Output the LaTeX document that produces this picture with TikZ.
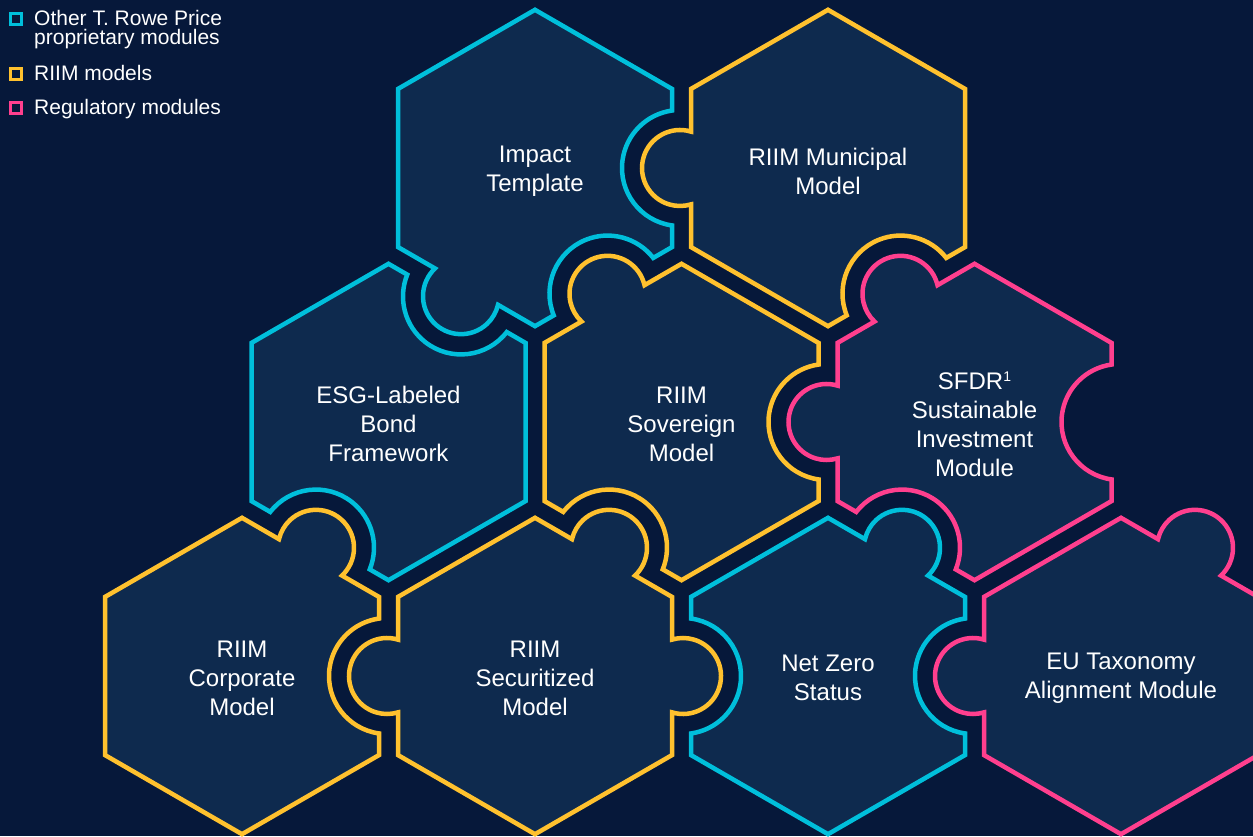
\documentclass[tikz,border=0pt]{standalone}
\usepackage{fontspec}
\setmainfont{Liberation Sans}
\usetikzlibrary{calc}
\definecolor{bgc}{HTML}{06183A}
\definecolor{fillc}{HTML}{0E2A4E}
\definecolor{cyanc}{HTML}{00BFDB}
\definecolor{yelc}{HTML}{FFC12E}
\definecolor{pinkc}{HTML}{FF3F8E}
% edge macros: #1 piece centre, #2 outward normal angle
\newcommand\edS[2]{-- ($(#1)+({#2+30}:158.19)$)}
\newcommand\edT[2]{-- ($(#1)+(#2:148)+({#2-106.83}:38)$) arc[start angle={#2-106.83}, end angle={#2+106.83}, radius=38] -- ($(#1)+({#2+30}:158.19)$)}
\newcommand\edN[2]{-- ($(#1)+(#2:145)+({#2-97.93}:58)$) arc[start angle={#2-97.93}, end angle={#2-262.07}, radius=58] -- ($(#1)+({#2+30}:158.19)$)}
\newcommand\ecS[2]{-- cycle}
\newcommand\ecT[2]{-- ($(#1)+(#2:148)+({#2-106.83}:38)$) arc[start angle={#2-106.83}, end angle={#2+106.83}, radius=38] -- cycle}
\newcommand\ecN[2]{-- ($(#1)+(#2:145)+({#2-97.93}:58)$) arc[start angle={#2-97.93}, end angle={#2-262.07}, radius=58] -- cycle}
\newcommand\stpt[1]{($(#1)+(-30:158.19)$)}
\begin{document}
\begin{tikzpicture}[x=1pt,y=1pt,
  piece/.style={fill=fillc, draw=#1, line width=4.5pt, line join=miter},
  lbl/.style={text=white, font=\fontsize{24}{29}\selectfont, align=center},
  leg/.style={text=white, font=\fontsize{21}{20}\selectfont, anchor=base west, inner sep=0pt},
  legsq/.style={draw=#1, line width=2.8pt, minimum size=11pt, inner sep=0pt}]
\fill[bgc] (0,0) rectangle (1253,836);
\clip (0,0) rectangle (1253,836);
\coordinate (A) at (535,668);
\coordinate (B) at (828,668);
\coordinate (C) at (388.5,414);
\coordinate (D) at (681.5,414);
\coordinate (E) at (974.5,414);
\coordinate (F) at (242,160);
\coordinate (G) at (535,160);
\coordinate (H) at (828,160);
\coordinate (I) at (1121,160);
% pieces
\draw[piece=cyanc] \stpt{A} \edN{A}{0} \edS{A}{60} \edS{A}{120} \edS{A}{180} \edT{A}{240} \ecN{A}{300};
\draw[piece=yelc]  \stpt{B} \edS{B}{0} \edS{B}{60} \edS{B}{120} \edT{B}{180} \edS{B}{240} \ecN{B}{300};
\draw[piece=cyanc] \stpt{C} \edS{C}{0} \edN{C}{60} \edS{C}{120} \edS{C}{180} \edN{C}{240} \ecS{C}{300};
\draw[piece=yelc]  \stpt{D} \edN{D}{0} \edS{D}{60} \edT{D}{120} \edS{D}{180} \edN{D}{240} \ecS{D}{300};
\draw[piece=pinkc] \stpt{E} \edN{E}{0} \edS{E}{60} \edT{E}{120} \edT{E}{180} \edN{E}{240} \ecS{E}{300};
\draw[piece=yelc]  \stpt{F} \edN{F}{0} \edT{F}{60} \edS{F}{120} \edS{F}{180} \edS{F}{240} \ecS{F}{300};
\draw[piece=yelc]  \stpt{G} \edT{G}{0} \edT{G}{60} \edS{G}{120} \edT{G}{180} \edS{G}{240} \ecS{G}{300};
\draw[piece=cyanc] \stpt{H} \edN{H}{0} \edT{H}{60} \edS{H}{120} \edN{H}{180} \edS{H}{240} \ecS{H}{300};
\draw[piece=pinkc] \stpt{I} \edS{I}{0} \edT{I}{60} \edS{I}{120} \edT{I}{180} \edS{I}{240} \ecS{I}{300};
% labels
\node[lbl] (tA) at ($(A)+(0,-3)$) {Impact\\Template};
\node[lbl] (tB) at ($(B)+(0,-3)$) {RIIM Municipal\\Model};
\node[lbl] (tC) at ($(C)+(0,-2)$) {ESG-Labeled\\Bond\\Framework};
\node[lbl] (tD) at ($(D)+(0,-2)$) {RIIM\\Sovereign\\Model};
\node[lbl] (tE) at ($(E)+(0,-2)$) {SFDR{\fontsize{14}{14}\selectfont\raisebox{8pt}{1}}\\Sustainable\\Investment\\Module};
\node[lbl] (tF) at ($(F)+(0,-2)$) {RIIM\\Corporate\\Model};
\node[lbl] (tG) at ($(G)+(0,-2)$) {RIIM\\Securitized\\Model};
\node[lbl] (tH) at ($(H)+(0,-2)$) {Net Zero\\Status};
\node[lbl] (tI) at ($(I)+(0,-2)$) {EU Taxonomy\\Alignment Module};
% legend
\node[legsq=cyanc] (sq1) at (16,817) {};
\node[legsq=yelc]  (sq2) at (16,762) {};
\node[legsq=pinkc] (sq3) at (16,728) {};
\node[leg] (l1a) at (34,810) {Other T. Rowe Price};
\node[leg] (l1b) at (34,791) {proprietary modules};
\node[leg] (l2) at (34,755) {RIIM models};
\node[leg] (l3) at (34,721) {Regulatory modules};
\end{tikzpicture}
\end{document}
